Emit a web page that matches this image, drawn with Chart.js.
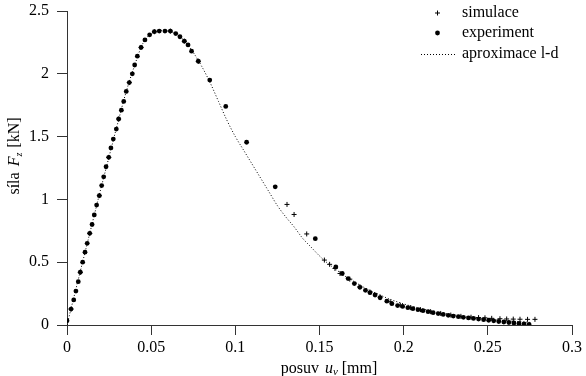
<!DOCTYPE html>
<html>
<head>
<meta charset="utf-8">
<script src="https://cdn.jsdelivr.net/npm/chart.js@4"></script>
<style>
html, body { margin: 0; padding: 0; background: #fff; }
#wrap { width: 586px; height: 376px; }
</style>
</head>
<body>
<div id="wrap"><canvas id="chart" width="586" height="376"></canvas></div>
<script>
// tick labels
const xTicks = [0, 0.05, 0.1, 0.15, 0.2, 0.25, 0.3];
const yTicks = [0, 0.5, 1, 1.5, 2, 2.5];

// experiment (dots)
const expX = [0, 0.0024, 0.004, 0.0053, 0.0067, 0.0079, 0.0093, 0.0107, 0.012, 0.0135,
  0.0149, 0.0162, 0.0176, 0.0192, 0.0206, 0.0218, 0.0232, 0.0248, 0.0261, 0.0275,
  0.0293, 0.0307, 0.0323, 0.0337, 0.0352, 0.037, 0.0388, 0.0402, 0.0418, 0.044,
  0.0463, 0.0491, 0.0519, 0.0548, 0.0582, 0.0614, 0.0646, 0.0671, 0.0697, 0.0719,
  0.074, 0.078, 0.0848, 0.0943, 0.1067, 0.1237, 0.1475, 0.1597,
  0.1635, 0.167, 0.1707, 0.174, 0.1773, 0.18, 0.183, 0.186, 0.19, 0.193, 0.1964,
  0.1994, 0.2025, 0.2055, 0.2085, 0.2115, 0.2145, 0.2175, 0.2205, 0.2235, 0.2265,
  0.2295, 0.2325, 0.2355, 0.2385, 0.2415, 0.2445, 0.2475, 0.2505, 0.2535, 0.2565,
  0.2595, 0.2625, 0.2655, 0.2685, 0.2715, 0.2745];
const expY = [0.034, 0.127, 0.2, 0.27, 0.345, 0.42, 0.5, 0.58, 0.65, 0.73,
  0.8, 0.876, 0.955, 1.03, 1.11, 1.18, 1.26, 1.335, 1.41, 1.48,
  1.56, 1.64, 1.71, 1.78, 1.86, 1.93, 2.0, 2.07, 2.14, 2.21,
  2.27, 2.31, 2.335, 2.34, 2.34, 2.34, 2.32, 2.295, 2.26, 2.23,
  2.18, 2.1, 1.95, 1.74, 1.455, 1.10, 0.687, 0.462,
  0.41, 0.37, 0.33, 0.30, 0.276, 0.257, 0.239, 0.217, 0.19, 0.17, 0.155,
  0.148, 0.138, 0.13, 0.122, 0.114, 0.106, 0.098, 0.091, 0.084, 0.077,
  0.071, 0.066, 0.061, 0.056, 0.052, 0.047, 0.042, 0.038, 0.033, 0.028,
  0.024, 0.02, 0.016, 0.012, 0.008, 0.005];

// simulation (crosses)
const simX = [0.0024, 0.0079, 0.0135, 0.0192, 0.0248, 0.0307, 0.037, 0.044, 0.0519, 0.0614,
  0.0697, 0.078, 0.1307, 0.1349, 0.1424, 0.1529, 0.156, 0.1592, 0.1622,
  0.168, 0.174, 0.18, 0.186, 0.192, 0.198, 0.204, 0.21, 0.216, 0.222, 0.228, 0.234, 0.24,
  0.2445, 0.2483, 0.2523, 0.2572, 0.2612, 0.2651, 0.2691, 0.2736, 0.278];
const simY = [0.127, 0.42, 0.73, 1.03, 1.335, 1.64, 1.93, 2.21, 2.335, 2.34,
  2.26, 2.1, 0.96, 0.88, 0.725, 0.517, 0.483, 0.45, 0.41,
  0.365, 0.305, 0.262, 0.222, 0.185, 0.158, 0.138, 0.122, 0.106, 0.092, 0.079, 0.069, 0.062,
  0.059, 0.057, 0.053, 0.05, 0.048, 0.047, 0.046, 0.045, 0.045];

// approximation l-d (dotted line)
const fitX = [0, 0.005, 0.01, 0.015, 0.02, 0.025, 0.03, 0.035, 0.04, 0.045, 0.05, 0.055,
  0.06, 0.065, 0.07, 0.075, 0.08, 0.085, 0.09, 0.095, 0.1, 0.105, 0.11, 0.115, 0.12,
  0.125, 0.13, 0.135, 0.14, 0.145, 0.15, 0.155, 0.16, 0.165, 0.17, 0.175, 0.18, 0.185,
  0.19, 0.195, 0.2, 0.21, 0.22, 0.23, 0.24, 0.25, 0.26, 0.27, 0.275];
const fitY = [0, 0.27, 0.54, 0.81, 1.08, 1.34, 1.6, 1.85, 2.06, 2.24, 2.32, 2.345,
  2.34, 2.315, 2.26, 2.17, 2.06, 1.93, 1.78, 1.63, 1.5, 1.39, 1.28, 1.17, 1.06,
  0.95, 0.86, 0.78, 0.69, 0.62, 0.55, 0.49, 0.44, 0.39, 0.35, 0.31, 0.275, 0.245,
  0.215, 0.19, 0.168, 0.132, 0.103, 0.08, 0.061, 0.046, 0.034, 0.025, 0.021];

const labels = ["simulace", "experiment", "aproximace l-d"];

function pts(xs, ys) {
  return xs.map((x, i) => ({ x: x, y: ys[i] }));
}

const FONT = "Liberation Serif";

// draw a run of text pieces (normal / italic / subscript)
function richText(ctx, parts, cx, cy) {
  let total = 0;
  parts.forEach(p => {
    ctx.font = p.font;
    p.w = ctx.measureText(p.t).width + (p.gap || 0);
    total += p.w;
  });
  let x = cx - total / 2;
  parts.forEach(p => {
    ctx.font = p.font;
    ctx.fillText(p.t, x, cy + (p.dy || 0));
    x += p.w;
  });
}

const textPlugin = {
  id: "texts",
  afterDraw(chart) {
    const ctx = chart.ctx;
    ctx.save();
    ctx.fillStyle = "#000";
    ctx.strokeStyle = "#000";
    ctx.textAlign = "left";
    ctx.textBaseline = "alphabetic";

    // x title
    richText(ctx, [
      { t: "posuv ", font: "16px " + FONT, gap: 2 },
      { t: "u", font: "italic 16px " + FONT },
      { t: "v", font: "italic 11px " + FONT, dy: 2, gap: 4 },
      { t: "[mm]", font: "16px " + FONT }
    ], 329, 373);

    // y title
    ctx.save();
    ctx.translate(19, 156);
    ctx.rotate(-Math.PI / 2);
    richText(ctx, [
      { t: "síla ", font: "16px " + FONT, gap: 2 },
      { t: "F", font: "italic 16px " + FONT },
      { t: "z", font: "italic 10px " + FONT, dy: 3, gap: 1 },
      { t: " [kN]", font: "16px " + FONT }
    ], 0, 0);
    ctx.restore();

    // legend
    ctx.font = "16px " + FONT;
    const ys = [13, 33, 54];
    ctx.fillText(labels[0], 462, ys[0] + 4);
    ctx.fillText(labels[1], 462, ys[1] + 4);
    ctx.fillText(labels[2], 462, ys[2] + 4);

    ctx.lineWidth = 1;
    ctx.beginPath();
    ctx.moveTo(435, ys[0]); ctx.lineTo(440, ys[0]);
    ctx.moveTo(437.5, ys[0] - 2.5); ctx.lineTo(437.5, ys[0] + 2.5);
    ctx.stroke();

    ctx.beginPath();
    ctx.arc(437.5, ys[1], 2.4, 0, Math.PI * 2);
    ctx.fill();

    ctx.setLineDash([1, 2]);
    ctx.beginPath();
    ctx.moveTo(421, ys[2] + 0.5); ctx.lineTo(456, ys[2] + 0.5);
    ctx.stroke();
    ctx.restore();
  }
};

const ctx = document.getElementById("chart").getContext("2d");

const chart = new Chart(ctx, {
  type: "scatter",
  data: {
    datasets: [
      {
        label: labels[1],
        data: pts(expX, expY),
        pointStyle: "circle",
        pointRadius: 2.4,
        pointBackgroundColor: "#000",
        pointBorderWidth: 0,
        order: 1
      },
      {
        label: labels[0],
        data: pts(simX, simY),
        pointStyle: "cross",
        pointRadius: 2.5,
        pointBorderColor: "#000",
        pointBorderWidth: 1,
        order: 2
      },
      {
        label: labels[2],
        data: pts(fitX, fitY),
        showLine: true,
        borderColor: "#000",
        borderWidth: 1,
        borderDash: [1, 2],
        pointRadius: 0,
        cubicInterpolationMode: "monotone",
        order: 3
      }
    ]
  },
  options: {
    responsive: false,
    animation: false,
    layout: { padding: { left: 0, right: 14, top: 11, bottom: 0 } },
    plugins: {
      legend: { display: false },
      tooltip: { enabled: false }
    },
    scales: {
      x: {
        type: "linear",
        min: 0,
        max: 0.3,
        afterBuildTicks: s => { s.ticks = xTicks.map(v => ({ value: v })); },
        afterFit: s => { s.height = 51; s.paddingLeft = 0; s.paddingRight = 0; },
        ticks: {
          color: "#000",
          padding: 3,
          maxRotation: 0,
          font: { family: FONT, size: 16 },
          callback: v => String(+v.toFixed(2))
        },
        grid: { drawOnChartArea: false, drawTicks: true, tickLength: 10, color: "#333" },
        border: { display: true, color: "#333", width: 1 }
      },
      y: {
        type: "linear",
        min: 0,
        max: 2.5,
        afterBuildTicks: s => { s.ticks = yTicks.map(v => ({ value: v })); },
        afterFit: s => { s.width = 67; s.paddingTop = 0; s.paddingBottom = 0; },
        ticks: {
          color: "#000",
          padding: 8,
          font: { family: FONT, size: 16 },
          callback: v => String(+v.toFixed(1))
        },
        grid: { drawOnChartArea: false, drawTicks: true, tickLength: 10, color: "#333" },
        border: { display: true, color: "#333", width: 1 }
      }
    }
  },
  plugins: [textPlugin]
});
</script>
</body>
</html>
